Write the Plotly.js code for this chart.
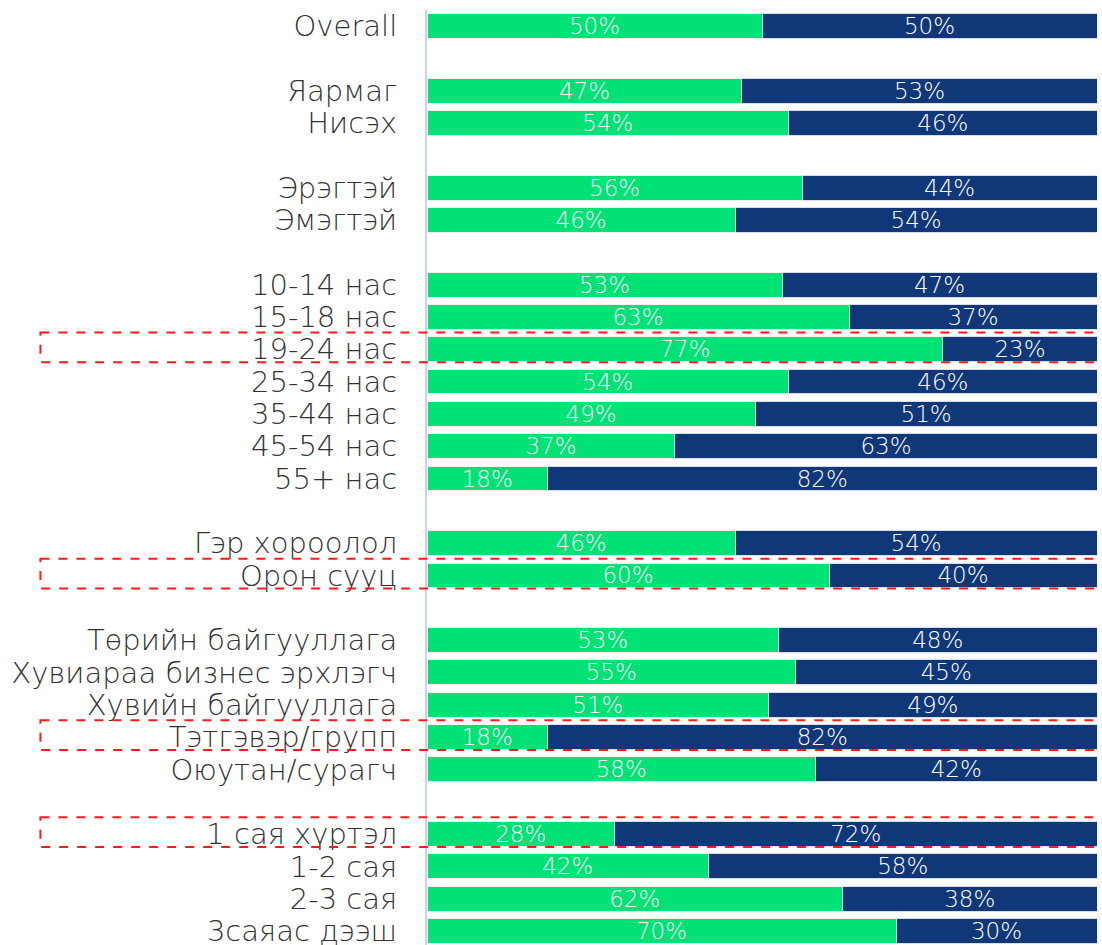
<!DOCTYPE html>
<html>
<head>
<meta charset="utf-8">
<script src="https://cdn.plot.ly/plotly-3.0.1.min.js"></script>
<style>html,body{margin:0;padding:0;background:#fff;}#chart{width:1102px;height:945px;}</style>
</head>
<body>
<div id="chart"></div>
<script>
// Row order top to bottom; "" marks a spacer row between groups
const categories = [
  "Overall", "",
  "Яармаг", "Нисэх", "",
  "Эрэгтэй", "Эмэгтэй", "",
  "10-14 нас", "15-18 нас", "19-24 нас", "25-34 нас", "35-44 нас", "45-54 нас", "55+ нас", "",
  "Гэр хороолол", "Орон сууц", "",
  "Төрийн байгууллага", "Хувиараа бизнес эрхлэгч", "Хувийн байгууллага", "Тэтгэвэр/групп", "Оюутан/сурагч", "",
  "1 сая хүртэл", "1-2 сая", "2-3 сая", "3саяас дээш"
];
const greenValues = [50, null, 47, 54, null, 56, 46, null, 53, 63, 77, 54, 49, 37, 18, null, 46, 60, null, 53, 55, 51, 18, 58, null, 28, 42, 62, 70];
const blueValues  = [50, null, 53, 46, null, 44, 54, null, 47, 37, 23, 46, 51, 63, 82, null, 54, 40, null, 48, 45, 49, 82, 42, null, 72, 58, 38, 30];
const highlighted = ["19-24 нас", "Орон сууц", "Тэтгэвэр/групп", "1 сая хүртэл"];

// unique names for spacer rows
let gapCount = 0;
const yCats = categories.map(c => c === "" ? "gap" + (++gapCount) : c);
const tickCats = categories.filter(c => c !== "");

function pick(vals) {
  const ys = [], xs = [], ts = [];
  vals.forEach((v, i) => { if (v !== null) { ys.push(yCats[i]); xs.push(v); ts.push(v + "%"); } });
  return {ys, xs, ts};
}
const g = pick(greenValues), b = pick(blueValues);

const FONT = "'DejaVu Sans', sans-serif";
const common = {
  type: "bar", orientation: "h", textposition: "inside", insidetextanchor: "middle",
  textangle: 0, constraintext: "none", hoverinfo: "skip",
  textfont: {family: FONT, size: 23, color: "#ffffff", weight: 200}
};
const traces = [
  Object.assign({}, common, {name: "A", y: g.ys, x: g.xs, text: g.ts, texttemplate: "%{text}",
    marker: {color: "#00E176", line: {color: "#e8f5ef", width: 1}}}),
  Object.assign({}, common, {name: "B", y: b.ys, x: b.xs, text: b.ts, texttemplate: "%{text}",
    marker: {color: "#103778", line: {color: "#d8dde8", width: 1}}})
];

const shapes = highlighted.map(name => {
  const idx = yCats.indexOf(name);
  return {type: "rect", xref: "paper", yref: "y", x0: -0.577, x1: 1.02, y0: idx - 0.52, y1: idx + 0.40,
    line: {color: "#ff1a1a", width: 2, dash: "dash"}, fillcolor: "rgba(0,0,0,0)", layer: "above"};
});

const layout = {
  width: 1102, height: 945,
  margin: {l: 427, r: 5, t: 10, b: 0, pad: 0},
  paper_bgcolor: "#ffffff", plot_bgcolor: "#ffffff",
  barmode: "stack", barnorm: "percent", bargap: 0.23,
  showlegend: false,
  xaxis: {range: [0, 100], visible: false, fixedrange: true},
  yaxis: {
    type: "category", categoryorder: "array", categoryarray: yCats,
    tickmode: "array", tickvals: tickCats, ticktext: tickCats,
    range: [28.433, -0.495],
    showgrid: false, zeroline: false, showline: true, linecolor: "#c6d3f6", linewidth: 2,
    ticks: "", ticklabelstandoff: 22,
    tickfont: {family: FONT, size: 29, color: "#333333", weight: 200}
  },
  shapes: shapes
};
Plotly.newPlot("chart", traces, layout, {displayModeBar: false, staticPlot: true});
</script>
</body>
</html>
